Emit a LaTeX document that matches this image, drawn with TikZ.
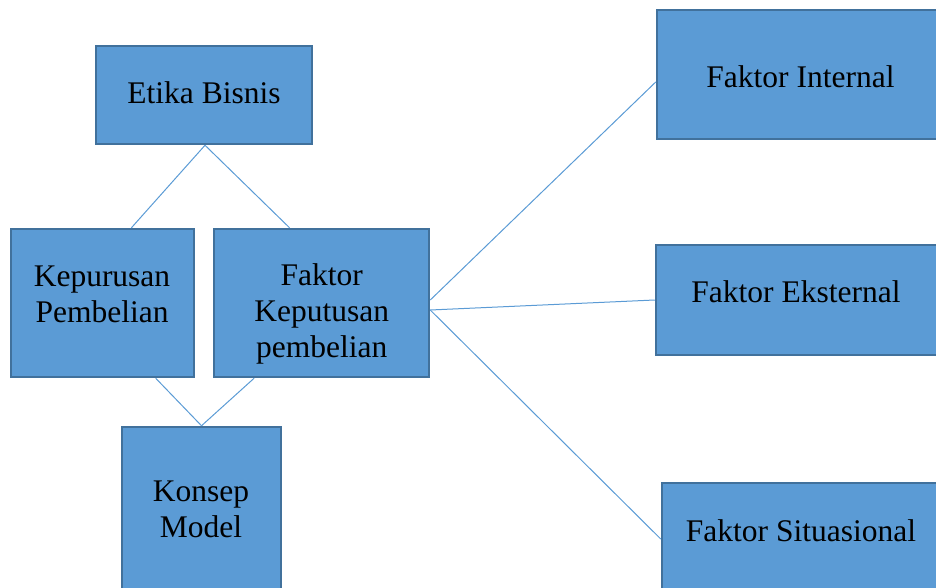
\documentclass[tikz,border=0pt]{standalone}
\usepackage{fontspec}
\setmainfont{Liberation Serif}
\usetikzlibrary{calc}
\definecolor{boxfill}{HTML}{5B9BD5}
\definecolor{boxline}{HTML}{41719C}
\definecolor{linkcol}{HTML}{5B9BD5}
\tikzset{
  box/.style={rectangle, draw=boxline, fill=boxfill, line width=2.5pt, inner sep=0pt},
  lbl/.style={anchor=base, inner sep=0pt, font=\fontsize{31.5}{36}\selectfont, text=black},
  link/.style={draw=linkcol, line width=1pt}
}
\begin{document}
\begin{tikzpicture}[x=1pt,y=-1pt]
\useasboundingbox (0,0) rectangle (936,588);
\clip (0,0) rectangle (936,588);
% boxes
\node[box, minimum width=216pt, minimum height=98pt] (etika) at (204,95) {};
\node[box, minimum width=183pt, minimum height=148pt] (kep) at (102.5,303) {};
\node[box, minimum width=215pt, minimum height=148pt] (fkp) at (321.5,303) {};
\node[box, minimum width=159pt, minimum height=173pt] (konsep) at (201.5,513.5) {};
\node[box, minimum width=287pt, minimum height=129pt] (fi) at (800.5,74.5) {};
\node[box, minimum width=288pt, minimum height=110pt] (fe) at (800,300) {};
\node[box, minimum width=282pt, minimum height=117pt] (fs) at (803,541.5) {};
% labels
\node[lbl] (tetika) at (204,104) {Etika Bisnis};
\node[lbl] (tkep) at (102,286) {\begin{tabular}[t]{@{}c@{}}Kepurusan\\Pembelian\end{tabular}};
\node[lbl] (tfkp) at (321.7,285.7) {\begin{tabular}[t]{@{}c@{}}Faktor\\Keputusan\\pembelian\end{tabular}};
\node[lbl] (tkonsep) at (201,501) {\begin{tabular}[t]{@{}c@{}}Konsep\\Model\end{tabular}};
\node[lbl] (tfi) at (800.5,87.3) {Faktor Internal};
\node[lbl] (tfe) at (796,302.7) {Faktor Eksternal};
\node[lbl] (tfs) at (801,541) {Faktor Situasional};
% connection points
\coordinate (etikaS) at ($(etika.south)+(1,0)$);
\coordinate (kepN) at ($(kep.north west)!0.656!(kep.north east)$);
\coordinate (fkpN) at ($(fkp.north west)!0.353!(fkp.north east)$);
\coordinate (kepS) at ($(kep.south west)!0.787!(kep.south east)$);
\coordinate (fkpS) at ($(fkp.south west)!0.19!(fkp.south east)$);
\coordinate (konsepN) at (konsep.north);
\coordinate (fkpE1) at ($(fkp.east)+(0,-3)$);
\coordinate (fkpE2) at ($(fkp.east)+(0,7)$);
\coordinate (fiW) at ($(fi.west)+(0,7.5)$);
\coordinate (feW) at (fe.west);
\coordinate (fsW) at ($(fs.west)+(0,-2.5)$);
% connectors
\draw[link] (etikaS) -- (kepN);
\draw[link] (etikaS) -- (fkpN);
\draw[link] (kepS) -- (konsepN);
\draw[link] (fkpS) -- (konsepN);
\draw[link] (fkpE1) -- (fiW);
\draw[link] (fkpE2) -- (feW);
\draw[link] (fkpE2) -- (fsW);
\end{tikzpicture}
\end{document}
